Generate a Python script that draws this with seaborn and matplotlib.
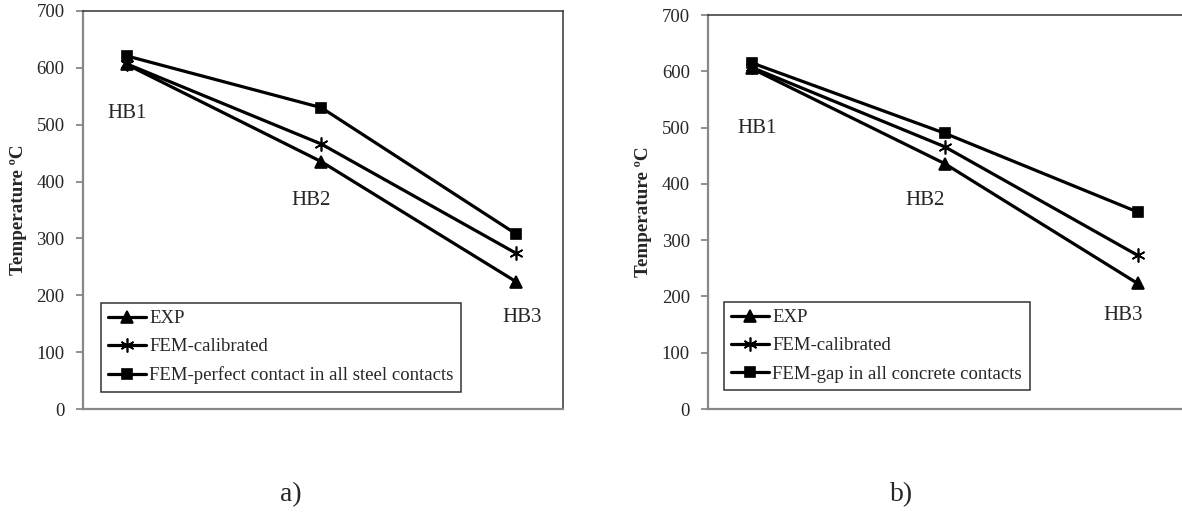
import matplotlib
matplotlib.use("Agg")
import matplotlib.pyplot as plt
import numpy as np
import pandas as pd
import seaborn as sns

# values
points = ["HB1", "HB2", "HB3"]
exp_a = [606, 435, 224]
cal_a = [607, 466, 274]
perfect_a = [621, 530, 308]
exp_b = [605, 436, 223]
cal_b = [607, 466, 273]
gap_b = [615, 490, 350]
names_a = ["EXP", "FEM-calibrated", "FEM-perfect contact in all steel contacts"]
names_b = ["EXP", "FEM-calibrated", "FEM-gap in all concrete contacts"]
yticks = [0, 100, 200, 300, 400, 500, 600, 700]
captions = ["a)", "b)"]

sns.set_style("white")
plt.rcParams["font.family"] = ["Liberation Serif", "DejaVu Serif"]

W, H = 1182, 515
fig = plt.figure(figsize=(W / 100, H / 100), dpi=100)


def panel(rect, series, names, label_pos, leg_anchor):
    ax = fig.add_axes(rect)
    df = pd.DataFrame({
        "point": points * 3,
        "temp": np.concatenate(series),
        "series": np.repeat(names, 3),
    })
    sns.lineplot(data=df, x="point", y="temp", hue="series", style="series",
                 hue_order=names, style_order=names,
                 markers=["^", "o", "s"], dashes=False,
                 palette=["black"] * 3, linewidth=2.3, errorbar=None,
                 markeredgecolor="black", markeredgewidth=1.2,
                 legend=False, ax=ax)
    # excel style star for the calibrated series
    ax.lines[1].set_marker((6, 2, 0))
    for ln, ms in zip(ax.lines, [8.5, 10, 7.5]):
        ln.set_markersize(ms)

    ax.set_xlim(-0.226, 2.24)
    ax.set_ylim(0, 700)
    ax.set_yticks(yticks)
    ax.set_xlabel("")
    ax.set_ylabel("Temperature ºC", fontsize=13.8, fontweight="bold")
    ax.yaxis.set_label_coords(-0.117, 0.5)
    ax.tick_params(axis="y", direction="out", length=5, width=1.3,
                   color="#888888", labelsize=13.5, pad=8, left=True)
    ax.tick_params(axis="x", length=0, labelbottom=False)
    for s in ["left", "bottom"]:
        ax.spines[s].set_color("#888888")
        ax.spines[s].set_linewidth(1.6)
    for s in ["top", "right"]:
        ax.spines[s].set_color("#333333")
        ax.spines[s].set_linewidth(1.1)

    for txt, (x, y) in zip(points, label_pos):
        ax.text(x, y, txt, ha="center", va="center", fontsize=15)

    leg = ax.legend(ax.lines[:3], names, loc="lower left",
                    bbox_to_anchor=leg_anchor, borderaxespad=0,
                    fontsize=13.5, frameon=True, fancybox=False,
                    handlelength=2.0, handletextpad=0.2, labelspacing=0.59,
                    borderpad=0.4, numpoints=1)
    leg.get_frame().set_edgecolor("black")
    leg.get_frame().set_linewidth(1.1)
    return ax


ax1 = panel([82.7 / W, 1 - 409 / H, 480 / W, 398 / H],
            [exp_a, cal_a, perfect_a], names_a,
            [(0.0, 520), (0.946, 367), (2.03, 161)], (0.0375, 0.043))
ax2 = panel([708 / W, 1 - 409 / H, 476 / W, 394 / H],
            [exp_b, cal_b, gap_b], names_b,
            [(0.026, 499), (0.90, 371), (1.924, 166)], (0.033, 0.048))

fig.text(291 / W, 1 - 495 / H, captions[0], ha="center", va="center", fontsize=20)
fig.text(902 / W, 1 - 495 / H, captions[1], ha="center", va="center", fontsize=20)

fig.savefig("out.png", dpi=100)
